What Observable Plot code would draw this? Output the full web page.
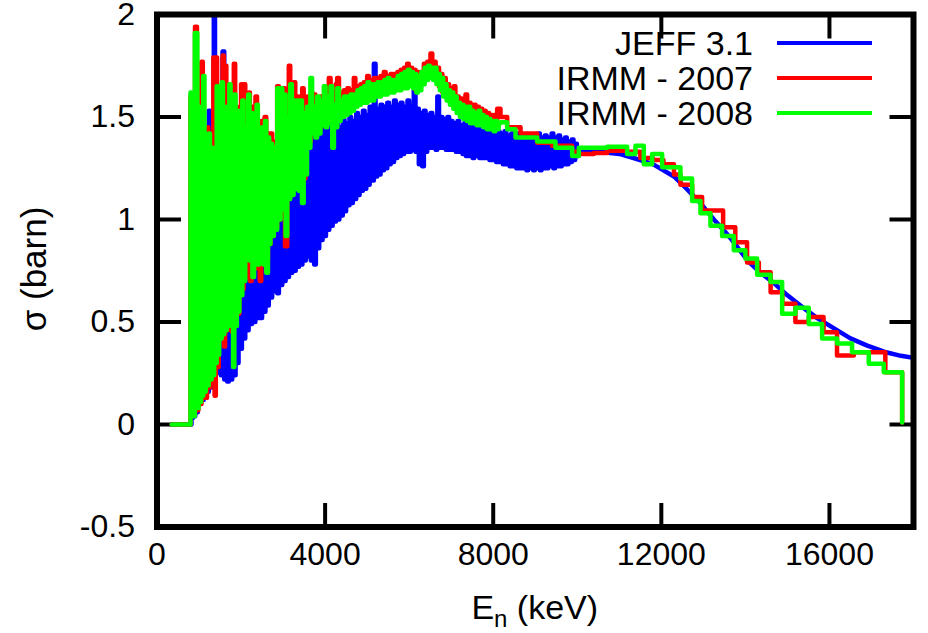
<!DOCTYPE html>
<html><head><meta charset="utf-8">
<script src="https://cdn.jsdelivr.net/npm/d3@7"></script>
<script src="https://cdn.jsdelivr.net/npm/@observablehq/plot@0.6"></script>
<style>
body{margin:0;background:#fff;}
#wrap{position:relative;width:928px;height:633px;overflow:hidden;}
.lt{position:absolute;font-family:"Liberation Sans",Arial,sans-serif;font-size:34px;line-height:40px;color:#000;white-space:nowrap;text-align:right;}
.ls{position:absolute;height:4px;}
</style></head><body><div id="wrap"></div>
<script>
const seriesNames = ["JEFF 3.1", "IRMM - 2007", "IRMM - 2008"];
const seriesColors = ["#0000ff", "#ff0000", "#00ff00"];
const xTicks = [0, 4000, 8000, 12000, 16000];
const yTicks = [-0.5, 0, 0.5, 1, 1.5, 2];

// JEFF 3.1 resolved region [E keV, sigma barn]
const jeffRes = [[350,0],[790,0],[820,0.03],[850,0.6],[880,0.04],[910,1.2],[940,0.06],[970,0.9],[1000,0.10],[1040,1.3],[1070,0.12],[1110,0.9],[1140,0.13],[1170,1.25],[1200,0.16],[1233,1.53],[1260,0.18],[1300,1.1],[1330,0.22],[1352,2.1],[1380,0.25],[1420,1.2],[1450,0.26],[1490,1.4],[1520,0.24],[1560,1.82],[1600,0.22],[1640,1.3],[1670,0.21],[1710,1.57],[1750,0.22],[1790,1.2],[1830,0.24],[1870,1.3],[1900,0.30],[1940,1.2],[1980,0.37],[2020,1.35],[2060,0.42],[2100,1.2],[2140,0.46],[2180,1.3],[2220,0.49],[2260,1.25],[2300,0.50],[2340,1.3],[2380,0.52],[2420,1.2],[2460,0.52],[2500,1.3],[2540,0.55],[2580,1.25],[2620,0.58],[2660,1.3],[2700,0.62],[2740,1.2],[2780,0.65],[2820,1.3],[2860,0.64],[2900,1.35],[2940,0.68],[2980,1.3],[3020,0.70],[3060,1.4],[3100,0.72],[3140,1.35],[3180,0.74],[3220,1.4],[3260,0.75],[3300,1.38],[3340,0.77],[3380,1.42],[3420,0.78],[3460,1.40],[3500,0.80],[3540,1.38],[3580,0.82],[3620,1.44],[3660,0.80],[3700,1.42],[3740,0.78],[3780,1.46],[3820,0.86],[3860,1.40],[3900,0.90],[3940,1.45],[3980,0.92],[4020,1.43],[4060,0.95],[4100,1.47],[4140,0.97],[4180,1.44],[4220,0.99],[4260,1.48],[4300,1.00],[4340,1.45],[4380,1.02],[4420,1.49],[4460,1.04],[4500,1.47],[4540,1.07],[4580,1.50],[4620,1.08],[4660,1.48],[4700,1.10],[4740,1.52],[4780,1.12],[4820,1.50],[4860,1.14],[4900,1.53],[4940,1.15],[4980,1.51],[5020,1.17],[5060,1.55],[5100,1.19],[5160,1.76],[5200,1.21],[5240,1.54],[5280,1.22],[5320,1.56],[5360,1.24],[5400,1.55],[5440,1.25],[5480,1.57],[5520,1.27],[5560,1.55],[5600,1.28],[5640,1.58],[5680,1.30],[5720,1.56],[5760,1.31],[5800,1.57],[5840,1.32],[5880,1.55],[5920,1.33],[5960,1.58],[6000,1.33],[6040,1.55],[6080,1.34],[6110,1.63],[6150,1.33],[6190,1.54],[6230,1.27],[6270,1.52],[6310,1.26],[6350,1.53],[6390,1.33],[6430,1.51],[6470,1.35],[6510,1.52],[6550,1.35],[6590,1.50],[6630,1.34],[6670,1.60],[6710,1.35],[6750,1.50],[6790,1.35],[6830,1.49],[6870,1.34],[6910,1.50],[6950,1.34],[6990,1.48],[7030,1.34],[7070,1.47],[7110,1.33],[7150,1.48],[7190,1.33],[7230,1.46],[7270,1.32],[7310,1.47],[7350,1.31],[7390,1.45],[7430,1.31],[7470,1.46],[7510,1.30],[7550,1.44],[7590,1.31],[7630,1.45],[7670,1.30],[7710,1.43],[7750,1.30],[7790,1.44],[7830,1.30],[7870,1.43],[7910,1.29],[7950,1.44],[7990,1.29],[8030,1.42],[8070,1.28],[8110,1.43],[8150,1.28],[8190,1.42],[8230,1.27],[8270,1.43],[8310,1.27],[8350,1.41],[8390,1.26],[8430,1.42],[8470,1.26],[8510,1.41],[8550,1.25],[8590,1.42],[8630,1.25],[8670,1.40],[8710,1.25],[8750,1.41],[8790,1.24],[8830,1.40],[8870,1.25],[8910,1.41],[8950,1.24],[8990,1.40],[9030,1.25],[9070,1.42],[9110,1.24],[9150,1.40],[9190,1.25],[9230,1.41],[9270,1.25],[9310,1.40],[9350,1.26],[9390,1.42],[9430,1.25],[9470,1.40],[9510,1.26],[9550,1.41],[9590,1.26],[9630,1.39],[9670,1.27],[9710,1.40],[9750,1.27],[9790,1.38],[9830,1.28],[9870,1.39],[9910,1.29],[9950,1.37],[9990,1.31],[10030,1.34]];
// JEFF 3.1 smooth region
const jeffTail = [[10030,1.34],[10500,1.33],[11000,1.32],[11340,1.30],[11800,1.27],[12300,1.21],[12600,1.15],[12930,1.08],[13250,1.00],[13560,0.93],[13720,0.89],[14050,0.80],[14360,0.74],[14680,0.69],[15000,0.63],[15310,0.58],[15700,0.52],[16100,0.47],[16500,0.42],[16900,0.385],[17300,0.355],[17700,0.335],[18000,0.325]];
// IRMM - 2007
const irmm07 = [[350,0],[797,1.60],[860,0.05],[905,1.94],[950,0.07],[985,1.50],[1015,0.10],[1060,1.77],[1090,0.14],[1125,1.30],[1150,0.13],[1190,1.45],[1220,0.18],[1260,1.30],[1290,0.21],[1340,1.79],[1370,0.14],[1400,1.79],[1430,0.28],[1470,1.50],[1500,0.42],[1560,1.80],[1590,0.38],[1620,1.75],[1650,0.46],[1690,1.60],[1720,0.49],[1760,1.55],[1790,0.45],[1828,1.76],[1860,0.50],[1890,1.50],[1920,0.54],[1960,1.55],[2000,1.66],[2030,0.66],[2060,1.66],[2100,0.72],[2150,1.50],[2185,1.62],[2210,0.70],[2250,1.55],[2290,0.76],[2343,1.60],[2380,0.80],[2420,1.45],[2445,0.70],[2480,1.48],[2520,0.80],[2560,1.50],[2600,0.80],[2640,1.42],[2680,0.88],[2700,1.42],[2740,0.92],[2780,1.38],[2820,0.96],[2859,1.65],[2900,1.00],[2940,1.62],[2980,1.05],[3017,1.64],[3045,0.87],[3100,1.55],[3136,1.75],[3170,1.12],[3210,1.60],[3255,1.67],[3290,1.15],[3330,1.60],[3370,1.15],[3410,1.60],[3454,1.64],[3490,1.20],[3530,1.55],[3573,1.60],[3610,1.38],[3660,1.62],[3700,1.43],[3731,1.61],[3770,1.42],[3810,1.58],[3850,1.44],[3890,1.60],[3930,1.60],[3970,1.48],[4010,1.62],[4050,1.48],[4088,1.69],[4130,1.50],[4170,1.58],[4210,1.50],[4250,1.66],[4286,1.69],[4330,1.50],[4370,1.62],[4410,1.52],[4450,1.63],[4490,1.53],[4530,1.64],[4570,1.54],[4610,1.63],[4650,1.55],[4683,1.69],[4720,1.56],[4760,1.65],[4800,1.57],[4840,1.66],[4880,1.58],[4920,1.67],[4960,1.58],[5000,1.70],[5040,1.59],[5080,1.68],[5120,1.60],[5160,1.69],[5200,1.61],[5240,1.69],[5280,1.61],[5320,1.70],[5360,1.62],[5397,1.72],[5440,1.62],[5480,1.70],[5520,1.63],[5560,1.71],[5600,1.63],[5635,1.71],[5680,1.64],[5720,1.72],[5760,1.64],[5800,1.73],[5840,1.65],[5880,1.74],[5920,1.65],[5952,1.76],[5990,1.66],[6030,1.74],[6070,1.65],[6110,1.73],[6150,1.63],[6190,1.72],[6230,1.64],[6270,1.72],[6310,1.67],[6350,1.76],[6390,1.69],[6430,1.77],[6470,1.70],[6507,1.81],[6550,1.70],[6590,1.77],[6630,1.68],[6670,1.74],[6710,1.65],[6746,1.71],[6790,1.62],[6830,1.69],[6870,1.60],[6910,1.66],[6950,1.58],[6990,1.64],[7030,1.56],[7063,1.65],[7100,1.54],[7140,1.60],[7180,1.52],[7220,1.59],[7260,1.51],[7300,1.58],[7340,1.61],[7380,1.50],[7420,1.57],[7460,1.49],[7500,1.55],[7539,1.56],[7580,1.48],[7620,1.55],[7660,1.47],[7700,1.54],[7740,1.47],[7780,1.53],[7820,1.46],[7860,1.52],[7900,1.46],[7940,1.51],[7980,1.45],[8020,1.51],[8060,1.45],[8094,1.54],[8173,1.50],[8332,1.45],[8650,1.42],[9045,1.375],[9400,1.36],[9878,1.33],[10037,1.32],[10394,1.325],[10711,1.335],[11187,1.33],[11500,1.30],[11800,1.29],[12050,1.27],[12300,1.22],[12455,1.17],[12733,1.11],[12970,1.044],[13470,0.962],[13760,0.889],[14040,0.79],[14320,0.743],[14600,0.645],[14880,0.589],[15190,0.50],[15510,0.525],[15860,0.45],[16180,0.337],[16580,0.353],[16970,0.353],[17330,0.255],[17730,0.01]];
// IRMM - 2008
const irmm08 = [[350,0],[797,1.62],[870,0.04],[900,1.91],[960,0.08],[990,1.55],[1020,0.11],[1050,1.34],[1080,0.14],[1100,1.70],[1130,0.16],[1160,1.27],[1190,0.19],[1230,1.42],[1260,0.22],[1300,1.35],[1330,0.24],[1360,1.21],[1390,0.30],[1420,1.65],[1450,0.34],[1480,1.45],[1510,0.42],[1540,1.67],[1570,0.44],[1600,1.40],[1630,0.46],[1660,1.55],[1690,0.48],[1720,1.66],[1750,0.50],[1780,1.45],[1810,0.28],[1840,1.61],[1870,0.48],[1900,1.42],[1930,0.55],[1960,1.53],[1990,0.63],[2030,1.58],[2060,0.70],[2100,1.45],[2140,0.84],[2170,1.61],[2200,0.80],[2240,1.52],[2270,0.72],[2310,1.45],[2340,0.80],[2370,1.56],[2400,0.78],[2430,1.40],[2460,0.80],[2500,1.45],[2530,0.78],[2570,1.48],[2600,0.74],[2640,1.40],[2670,0.88],[2700,1.37],[2740,0.92],[2780,1.35],[2820,0.95],[2860,1.64],[2900,1.00],[2940,1.64],[2980,1.05],[3020,1.61],[3060,0.92],[3100,1.50],[3140,1.10],[3170,1.66],[3210,1.12],[3250,1.58],[3290,1.15],[3330,1.58],[3370,1.14],[3410,1.58],[3450,1.08],[3490,1.52],[3530,1.22],[3570,1.55],[3610,1.35],[3650,1.69],[3690,1.42],[3730,1.55],[3770,1.40],[3810,1.60],[3850,1.42],[3890,1.58],[3930,1.46],[3970,1.65],[4010,1.45],[4050,1.60],[4090,1.47],[4130,1.65],[4170,1.35],[4210,1.56],[4250,1.45],[4290,1.64],[4330,1.48],[4370,1.58],[4410,1.50],[4450,1.60],[4490,1.51],[4530,1.60],[4570,1.52],[4610,1.61],[4650,1.53],[4690,1.61],[4730,1.55],[4770,1.63],[4810,1.56],[4850,1.64],[4890,1.57],[4930,1.65],[4970,1.57],[5010,1.67],[5050,1.58],[5090,1.66],[5130,1.58],[5170,1.66],[5210,1.60],[5250,1.67],[5290,1.60],[5330,1.67],[5370,1.61],[5410,1.68],[5450,1.61],[5490,1.69],[5530,1.62],[5570,1.68],[5610,1.62],[5650,1.68],[5690,1.63],[5730,1.70],[5770,1.63],[5810,1.71],[5850,1.64],[5890,1.72],[5930,1.64],[5970,1.73],[6010,1.65],[6050,1.72],[6090,1.64],[6130,1.71],[6170,1.62],[6210,1.70],[6250,1.63],[6290,1.72],[6330,1.66],[6370,1.74],[6410,1.68],[6450,1.75],[6490,1.69],[6530,1.74],[6570,1.68],[6610,1.74],[6650,1.66],[6690,1.71],[6730,1.63],[6770,1.69],[6810,1.60],[6850,1.66],[6890,1.58],[6930,1.63],[6970,1.56],[7010,1.62],[7050,1.54],[7090,1.60],[7130,1.52],[7170,1.57],[7210,1.50],[7250,1.56],[7290,1.49],[7330,1.55],[7370,1.48],[7410,1.55],[7450,1.47],[7490,1.53],[7530,1.47],[7570,1.52],[7610,1.46],[7650,1.53],[7690,1.46],[7730,1.51],[7770,1.45],[7810,1.50],[7850,1.44],[7890,1.49],[7930,1.44],[7970,1.48],[8010,1.43],[8050,1.48],[8090,1.44],[8130,1.47],[8173,1.475],[8332,1.44],[8530,1.40],[9045,1.38],[9481,1.35],[9878,1.31],[10037,1.35],[10711,1.355],[11187,1.32],[11385,1.36],[11583,1.27],[11781,1.32],[12019,1.255],[12455,1.20],[12733,1.09],[12931,1.03],[13169,0.97],[13446,0.92],[13724,0.85],[14001,0.81],[14279,0.73],[14596,0.695],[14874,0.54],[15191,0.57],[15508,0.49],[15825,0.42],[16182,0.395],[16539,0.353],[16936,0.296],[17293,0.255],[17730,0.01]];

const rows = a => a.map(([E, s]) => ({E, s}));
const font = '"Liberation Sans", Arial, sans-serif';
const fmt = d => String(d);
const lw = 4.5;

// frame geometry and scale domains
const W = 928, H = 633, mL = 156.5, mR = 15, mT = 14, mB = 106.5;
const xDom = [0, 18000], yDom = [-0.5, 2];
const tickPx = 24;
const tx = tickPx * (xDom[1] - xDom[0]) / (W - mL - mR);   // tick length in keV
const ty = tickPx * (yDom[1] - yDom[0]) / (H - mT - mB);   // tick length in barn

const tickStyle = {stroke: "black", strokeWidth: 4, strokeLinecap: "butt"};
const chart = Plot.plot({
  width: W, height: H,
  marginLeft: mL, marginRight: mR, marginTop: mT, marginBottom: mB,
  x: {domain: xDom},
  y: {domain: yDom},
  style: {fontFamily: font, fontSize: "32px", background: "#fff", color: "#000"},
  marks: [
    Plot.axisX(xTicks, {anchor: "bottom", tickSize: 0, tickPadding: 15, tickFormat: fmt, fontSize: 32, label: null}),
    Plot.axisY(yTicks, {anchor: "left", tickSize: 0, tickPadding: 22, tickFormat: fmt, fontSize: 32, label: null}),
    // inward ticks on all four sides
    Plot.link(xTicks, {x1: d => d, x2: d => d, y1: () => yDom[0], y2: () => yDom[0] + ty, ...tickStyle}),
    Plot.link(xTicks, {x1: d => d, x2: d => d, y1: () => yDom[1], y2: () => yDom[1] - ty, ...tickStyle}),
    Plot.link(yTicks, {y1: d => d, y2: d => d, x1: () => xDom[0], x2: () => xDom[0] + tx, ...tickStyle}),
    Plot.link(yTicks, {y1: d => d, y2: d => d, x1: () => xDom[1], x2: () => xDom[1] - tx, ...tickStyle}),
    Plot.line(rows(jeffRes), {x: "E", y: "s", stroke: seriesColors[0], strokeWidth: lw, curve: "step-after", clip: true}),
    Plot.line(rows(jeffTail), {x: "E", y: "s", stroke: seriesColors[0], strokeWidth: lw, curve: "linear", clip: true}),
    Plot.line(rows(irmm07), {x: "E", y: "s", stroke: seriesColors[1], strokeWidth: lw, curve: "step-after", clip: true}),
    Plot.line(rows(irmm08), {x: "E", y: "s", stroke: seriesColors[2], strokeWidth: lw, curve: "step-after", clip: true}),
    Plot.frame({stroke: "black", strokeWidth: 6})
  ]
});

const wrap = document.getElementById("wrap");
wrap.appendChild(chart);

// axis titles
const svg = d3.select(chart);
const xl = svg.append("text").attr("x", 534.75).attr("y", 619).attr("text-anchor", "middle")
  .attr("font-family", font).attr("font-size", 34).attr("fill", "#000");
xl.append("tspan").text("E");
xl.append("tspan").attr("font-size", 24).attr("dy", 8).text("n");
xl.append("tspan").attr("dy", -8).text(" (keV)");
svg.append("text").attr("transform", "translate(46,269) rotate(-90)").attr("text-anchor", "middle")
  .attr("font-family", font).attr("font-size", 35).attr("fill", "#000").text("σ (barn)");

// legend
const rowsY = [43, 78, 113];
seriesNames.forEach((name, i) => {
  const t = document.createElement("div");
  t.className = "lt";
  t.style.right = (W - 753) + "px";
  t.style.top = (rowsY[i] - 20) + "px";
  t.textContent = name;
  wrap.appendChild(t);
  const s = document.createElement("div");
  s.className = "ls";
  s.style.left = "777px";
  s.style.width = "95px";
  s.style.top = (rowsY[i] - 2) + "px";
  s.style.background = seriesColors[i];
  wrap.appendChild(s);
});
</script></body></html>
